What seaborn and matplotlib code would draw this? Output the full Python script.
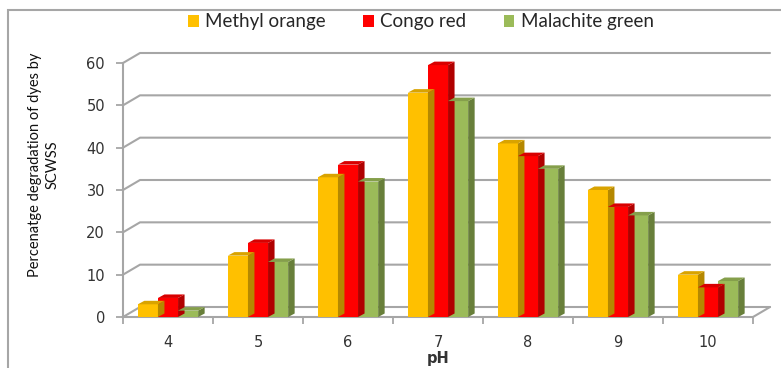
import numpy as np
import pandas as pd
import seaborn as sns
import matplotlib
matplotlib.use("Agg")
import matplotlib.pyplot as plt
from matplotlib.patches import Polygon, Rectangle
from matplotlib.lines import Line2D
from matplotlib.transforms import IdentityTransform

# ---- data ----
ph_values = ["4", "5", "6", "7", "8", "9", "10"]
methyl_orange = [3, 14.5, 33, 53, 41, 30, 10]
congo_red = [4.5, 17.5, 36, 59.5, 38, 26, 7]
malachite_green = [1.5, 13, 32, 51, 35, 24, 8.5]
series_names = ["Methyl orange", "Congo red", "Malachite green"]
y_ticks = [0, 10, 20, 30, 40, 50, 60]

colors = ["#FFC000", "#FF0000", "#9BBB59"]
side_colors = ["#B58800", "#B00000", "#687F3A"]
top_colors = ["#D9A300", "#D80000", "#859F4B"]

df = pd.DataFrame({
    "pH": ph_values * 3,
    "value": methyl_orange + congo_red + malachite_green,
    "dye": sum([[n] * len(ph_values) for n in series_names], []),
})

W, H = 781, 368
sns.set_style("white")
plt.rcParams["font.family"] = ["DejaVu Sans"]
fig = plt.figure(figsize=(W / 100, H / 100), dpi=100)

left_px, right_px, top_px, bot_px = 123, 753, 63, 317
ax = fig.add_axes([left_px / W, 1 - bot_px / H, (right_px - left_px) / W, (bot_px - top_px) / H])
ax.patch.set_alpha(0)

sns.barplot(data=df, x="pH", y="value", hue="dye", order=ph_values,
            hue_order=series_names, palette=colors, width=0.67, gap=0,
            saturation=1, ax=ax, legend=False, linewidth=0, zorder=3)

ax.set_xlim(-0.5, len(ph_values) - 0.5)
ax.set_ylim(0, 60)
ax.set_yticks(y_ticks)
ax.set_xlabel("")
ax.set_ylabel("")

grid_c = "#A6A6A6"
for s in ["top", "right"]:
    ax.spines[s].set_visible(False)
for s in ["left", "bottom"]:
    ax.spines[s].set_color(grid_c)
    ax.spines[s].set_linewidth(1.5)
    ax.spines[s].set_zorder(2)

ax.tick_params(axis="y", length=5, width=1.3, color=grid_c, pad=8,
               labelsize=10.5, labelcolor="#333333", left=True)
ax.set_xticks(np.arange(-0.5, len(ph_values), 1.0), minor=True)
ax.tick_params(axis="x", which="major", length=0, pad=13, labelsize=10.5, labelcolor="#333333")
ax.tick_params(axis="x", which="minor", length=5, width=1.3, color=grid_c, bottom=True)

fig.canvas.draw()
T = ax.transData
ident = IdentityTransform()
dx, dy = 17, 10
x_back_end = 770

# back wall gridlines with diagonal connectors
for v in y_ticks:
    x0, y0 = T.transform((-0.5, v))
    ln = Line2D([x0, x0 + dx, x_back_end], [y0, y0 + dy, y0 + dy],
                transform=ident, color=grid_c, lw=1.5, zorder=1, clip_on=False)
    ax.add_line(ln)
# floor right edge
xr, yr = T.transform((len(ph_values) - 0.5, 0))
ax.add_line(Line2D([xr, xr + dx], [yr, yr + dy], transform=ident,
                   color=grid_c, lw=1.5, zorder=1, clip_on=False))

# 3D faces for the bars
d, e = 6.5, 3.5
n = len(ph_values)
for i, patch in enumerate(ax.patches[: 3 * n]):
    k = i // n
    bb = patch.get_window_extent()
    x0, x1, y0, y1 = bb.x0, bb.x1, bb.y0, bb.y1
    side = Polygon([(x1, y0), (x1, y1), (x1 + d, y1 + e), (x1 + d, y0 + e)],
                   closed=True, transform=ident, facecolor=side_colors[k],
                   edgecolor="none", zorder=4, clip_on=False)
    top = Polygon([(x0, y1), (x1, y1), (x1 + d, y1 + e), (x0 + d, y1 + e)],
                  closed=True, transform=ident, facecolor=top_colors[k],
                  edgecolor="none", zorder=4, clip_on=False)
    ax.add_patch(side)
    ax.add_patch(top)

# outer frame
fig.add_artist(Rectangle((8, -20), 900, H - 10 + 20, transform=ident, fill=False,
                         edgecolor="#A6A6A6", lw=1.5, zorder=0))

# labels
fig.text(438 / W, 1 - 358 / H, "pH", ha="center", va="center",
         fontsize=10.5, fontweight="bold", color="#333333")
fig.text(44 / W, 1 - 165 / H, "Percenatge degradation of dyes by\nSCWSS",
         rotation=90, ha="center", va="center", multialignment="center",
         fontsize=10.5, family=["Lato", "DejaVu Sans"], color="#111111",
         linespacing=1.3)

# legend
handles = [Rectangle((0, 0), 1, 1, facecolor=c, edgecolor="none") for c in colors]
fig.legend(handles, series_names, loc="center", bbox_to_anchor=(421 / W, 1 - 22 / H),
           ncol=3, frameon=False, handlelength=0.55, handleheight=0.55,
           handletextpad=0.35, columnspacing=2.0,
           prop={"family": ["Lato", "DejaVu Sans"], "size": 13.5})

fig.savefig("out.png", dpi=100)
